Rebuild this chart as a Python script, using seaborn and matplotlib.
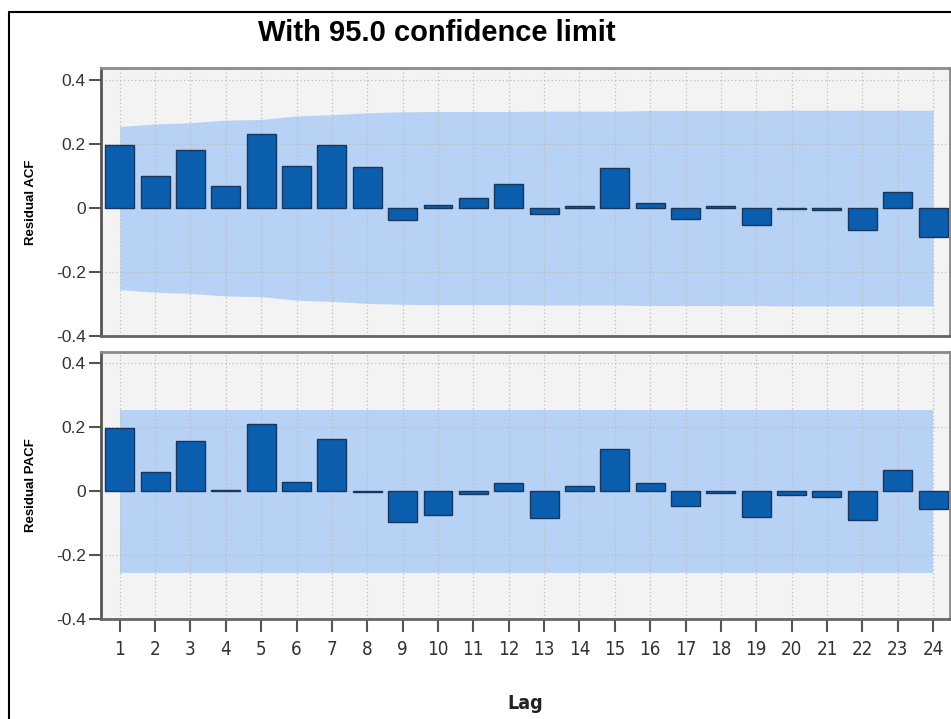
import numpy as np
import matplotlib
matplotlib.use('Agg')
import matplotlib.pyplot as plt
import seaborn as sns

# lags and residual correlations
lags = list(range(1, 25))
acf = [0.198, 0.099, 0.180, 0.068, 0.231, 0.130, 0.198, 0.127, -0.037, 0.011,
       0.031, 0.076, -0.019, 0.005, 0.125, 0.016, -0.034, 0.005, -0.053, -0.003,
       -0.007, -0.068, 0.051, -0.089]
pacf = [0.199, 0.062, 0.156, 0.003, 0.210, 0.029, 0.164, -0.003, -0.097, -0.075,
        -0.008, 0.025, -0.083, 0.016, 0.132, 0.025, -0.044, -0.004, -0.079, -0.012,
        -0.017, -0.089, 0.068, -0.055]
# 95% confidence limits (upper; lower is the negative)
acf_limit = [0.255, 0.263, 0.267, 0.275, 0.277, 0.288, 0.292, 0.298, 0.301, 0.302,
             0.302, 0.302, 0.303, 0.303, 0.303, 0.305, 0.305, 0.305, 0.305, 0.306,
             0.306, 0.306, 0.306, 0.306]
pacf_limit = [0.255] * 24

yticks = [-0.4, -0.2, 0, 0.2, 0.4]
ytick_labels = ['-0.4', '-0.2', '0', '0.2', '0.4']

sns.set_theme(style='white')
plt.rcParams['font.family'] = ['Liberation Sans', 'DejaVu Sans']

bar_color = '#0b5dad'
edge_color = '#17375e'
band_color = '#b8d2f5'
narrow = ['DejaVu Sans']

fig = plt.figure(figsize=(9.51, 7.19), dpi=100)
ax1 = fig.add_axes([0.1062, 0.5327, 0.8928, 0.3723])
ax2 = fig.add_axes([0.1062, 0.1384, 0.8928, 0.3727])

panels = [(ax1, acf, acf_limit, 'Residual ACF'), (ax2, pacf, pacf_limit, 'Residual PACF')]
for ax, vals, lim, label in panels:
    ax.set_facecolor('#f3f3f3')
    lim = np.array(lim)
    ax.fill_between(lags, -lim, lim, color=band_color, linewidth=0, zorder=0.3)
    sns.barplot(x=lags, y=vals, native_scale=True, width=0.82, color=bar_color,
                edgecolor=edge_color, linewidth=1.0, saturation=1, ax=ax, zorder=2)
    ax.set_xlim(0.47, 24.48)
    ax.set_ylim(-0.4, 0.437)
    ax.set_xticks(lags)
    ax.set_yticks(yticks)
    ax.set_yticklabels(ytick_labels, fontsize=12.5, color='#333333')
    ax.set_axisbelow(True)
    ax.grid(True, color='#bdbdbd', linestyle=(0, (1, 2)), linewidth=0.9)
    for side, sp in ax.spines.items():
        sp.set_visible(True)
        sp.set_color('#8a8a8a')
        sp.set_linewidth(2)
    ax.spines['left'].set_color('#555555')
    ax.spines['bottom'].set_color('#666666')
    ax.tick_params(axis='y', which='both', left=True, length=9, width=1.5,
                   color='#555555', pad=2)
    ax.set_ylabel(label, fontsize=9.5, fontweight='bold', color='black')
    ax.yaxis.set_label_coords(-0.075, 0.5)

ax1.tick_params(axis='x', bottom=False, labelbottom=False)
ax1.set_xlabel('')
ax2.tick_params(axis='x', bottom=True, length=9, width=1.5, color='#555555', pad=6)
ax2.set_xticklabels([str(l) for l in lags], fontsize=13.5, color='#333333',
                    family=narrow, fontstretch='condensed')
ax2.set_xlabel('Lag', fontsize=14, fontweight='bold', labelpad=25, color='#222222',
               family=narrow, fontstretch='condensed')

fig.text(437 / 951, 1 - 33 / 719, 'With 95.0 confidence limit', ha='center', va='center',
         fontsize=21, fontweight='bold', color='black')

# outer frame lines (left and top)
fig.add_artist(plt.Line2D([9 / 951, 9 / 951], [0, 1 - 12 / 719], transform=fig.transFigure,
                          color='black', linewidth=1.5))
fig.add_artist(plt.Line2D([9 / 951, 1], [1 - 12 / 719, 1 - 12 / 719], transform=fig.transFigure,
                          color='black', linewidth=1.5))

fig.savefig('out.png', dpi=100)
